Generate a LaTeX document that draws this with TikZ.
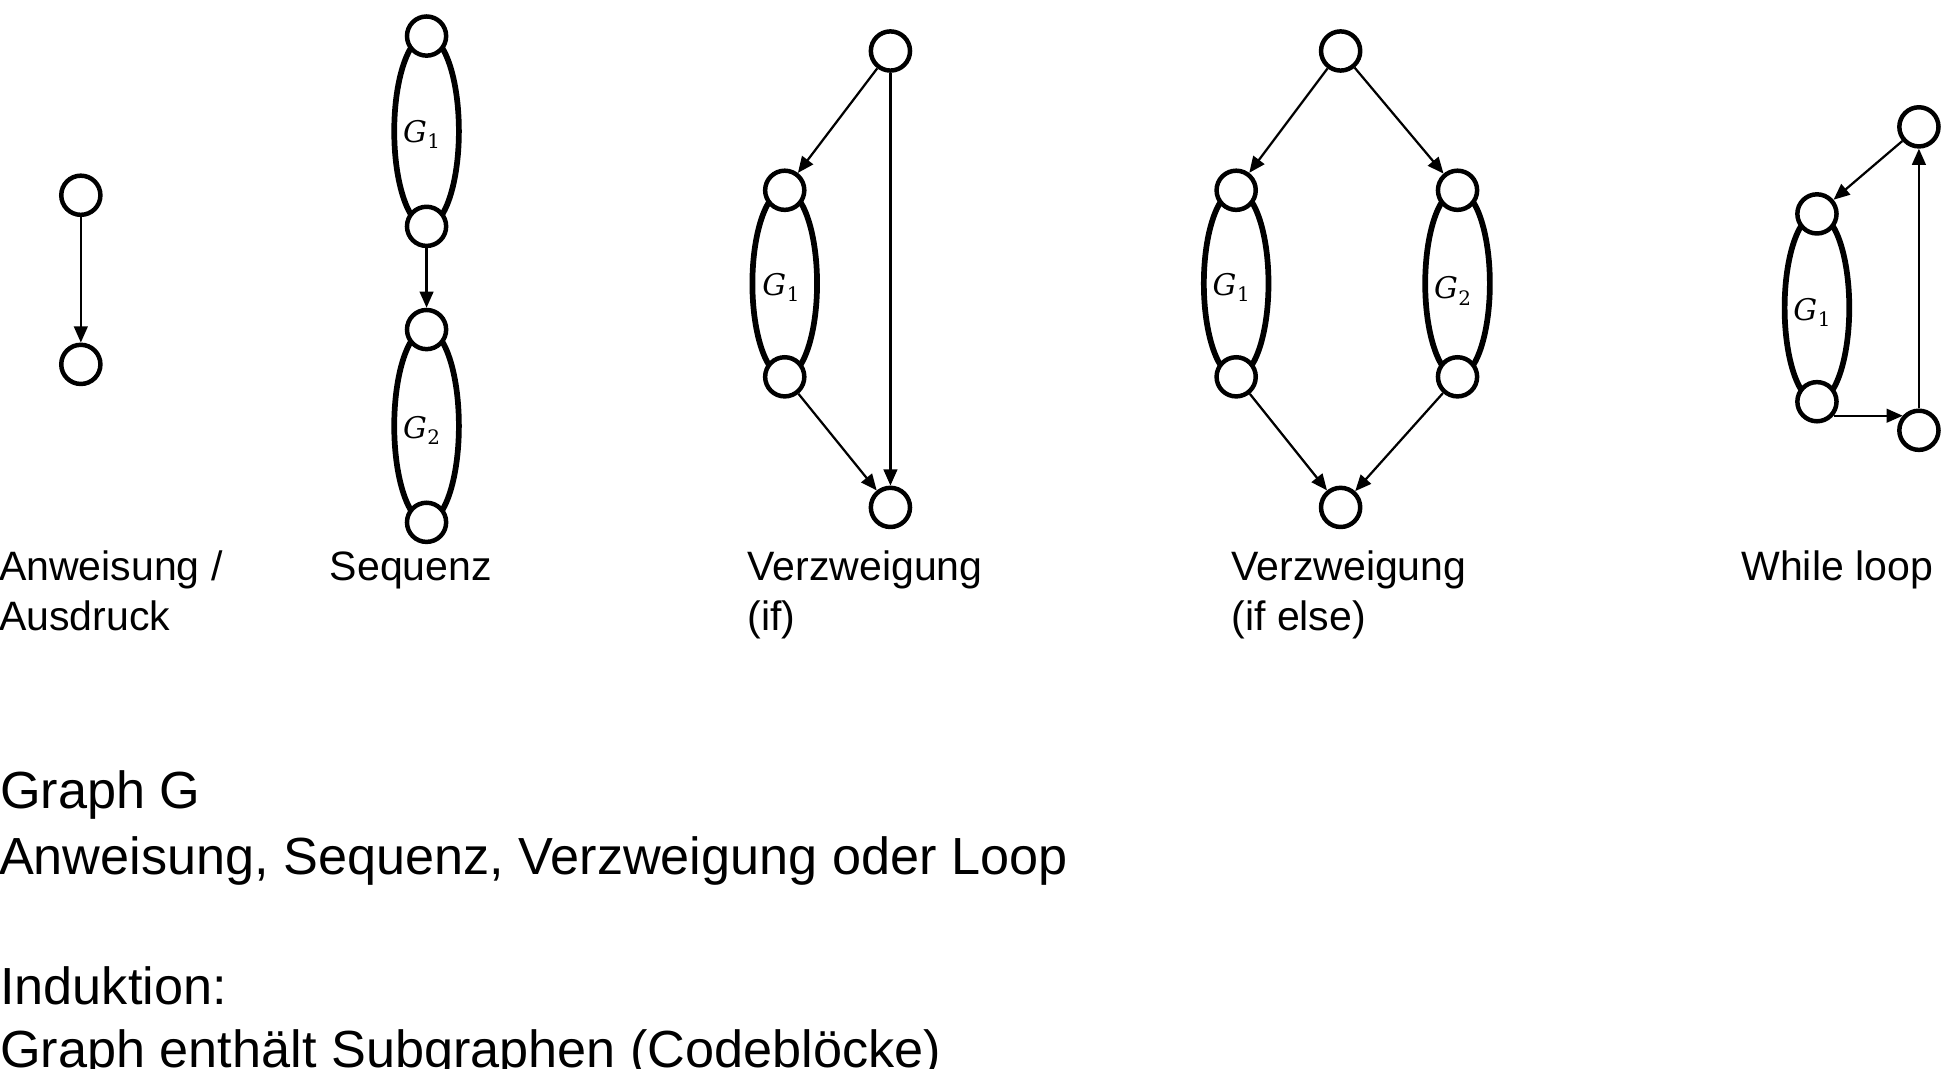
\documentclass[tikz,border=0pt]{standalone}
\usepackage{fontspec}
\setmainfont{Liberation Sans}
\newfontfamily\gfont{DejaVu Serif}
\usetikzlibrary{arrows.meta,calc,backgrounds}
\newcommand{\Gsub}[1]{{\gfont\fontsize{24}{28}\selectfont\itshape G}\kern0.5pt\raisebox{-5pt}{\gfont\fontsize{16}{18}\selectfont #1}}
\begin{document}
\begin{tikzpicture}[x=1pt,y=-1pt,
 vtx/.style={circle,draw,line width=3.6pt,fill=white,minimum size=31.5pt,inner sep=0pt},
 arr/.style={line width=1.8pt,-{Triangle[length=13pt,width=11pt]}},
 subg/.style={line width=4.6pt},
 lbl/.style={anchor=base west,inner sep=0pt,font=\fontsize{33}{40}\selectfont},
 big/.style={anchor=base west,inner sep=0pt,font=\fontsize{42}{50}\selectfont},
 glab/.style={inner sep=0pt}]
\useasboundingbox (0,0) rectangle (1568,859);

% Anweisung
\node[vtx] (a1) at (65,157) {};
\node[vtx] (a2) at (65,293) {};
\draw[arr] (a1) -- (a2);

% Sequenz
\node[vtx] (s1) at (343,29) {};
\node[vtx] (s2) at (343,182) {};
\node[vtx] (s3) at (343,265) {};
\node[vtx] (s4) at (343,420) {};
\draw[arr] (s2) -- (s3);

% Verzweigung (if)
\node[vtx] (i1) at (716,41) {};
\node[vtx] (i2) at (631,153) {};
\node[vtx] (i3) at (631,303) {};
\node[vtx] (i4) at (716,408) {};
\draw[arr] (i1) -- (i2);
\draw[arr] (i1) -- (i4);
\draw[arr] (i3) -- (i4);

% Verzweigung (if else)
\node[vtx] (e1) at (1078,41) {};
\node[vtx] (e2) at (994,153) {};
\node[vtx] (e3) at (994,303) {};
\node[vtx] (e4) at (1172,153) {};
\node[vtx] (e5) at (1172,303) {};
\node[vtx] (e6) at (1078,408) {};
\draw[arr] (e1) -- (e2);
\draw[arr] (e1) -- (e4);
\draw[arr] (e3) -- (e6);
\draw[arr] (e5) -- (e6);

% While loop
\node[vtx] (w1) at (1543,102) {};
\node[vtx] (w2) at (1461,172) {};
\node[vtx] (w3) at (1461,323) {};
\node[vtx] (w4) at (1543,346) {};
\draw[arr] (w1) -- (w2);
\draw[arr] (w3.-40) -- ($(w3.-40 -| w4.center)+(-13,0)$);
\draw[arr] (w4) -- (w1);

% subgraph ellipses
\begin{scope}[on background layer]
\draw[subg] ($(s1)!0.5!(s2)$) ellipse [x radius=26, y radius=76.5];
\draw[subg] ($(s3)!0.5!(s4)$) ellipse [x radius=26, y radius=77.5];
\draw[subg] ($(i2)!0.5!(i3)$) ellipse [x radius=26, y radius=75];
\draw[subg] ($(e2)!0.5!(e3)$) ellipse [x radius=26, y radius=75];
\draw[subg] ($(e4)!0.5!(e5)$) ellipse [x radius=26, y radius=75];
\draw[subg] ($(w2)!0.5!(w3)$) ellipse [x radius=26, y radius=75.5];
\end{scope}

\node[glab] (gs1) at (339,108) {\Gsub{1}};
\node[glab] (gs2) at (339,346) {\Gsub{2}};
\node[glab] (gi1) at (628,231) {\Gsub{1}};
\node[glab] (ge1) at (990,231) {\Gsub{1}};
\node[glab] (ge2) at (1168,234) {\Gsub{2}};
\node[glab] (gw1) at (1457,251) {\Gsub{1}};

% labels
\node[lbl] (t1a) at (-1,467) {Anweisung /};
\node[lbl] (t1b) at (-1,507) {Ausdruck};
\node[lbl] (t2) at (265,467) {Sequenz};
\node[lbl] (t3a) at (601,467) {Verzweigung};
\node[lbl] (t3b) at (601,507) {(if)};
\node[lbl] (t4a) at (990,467) {Verzweigung};
\node[lbl] (t4b) at (990,507) {(if else)};
\node[lbl] (t5) at (1400,467) {While loop};

\node[big] (b1) at (0,650) {Graph G};
\node[big] (b2) at (-1,703) {Anweisung, Sequenz, Verzweigung oder Loop};
\node[big] (b3) at (0,808) {Induktion:};
\node[big] (b4) at (0,858) {Graph enthält Subgraphen (Codeblöcke)};
\end{tikzpicture}
\end{document}
